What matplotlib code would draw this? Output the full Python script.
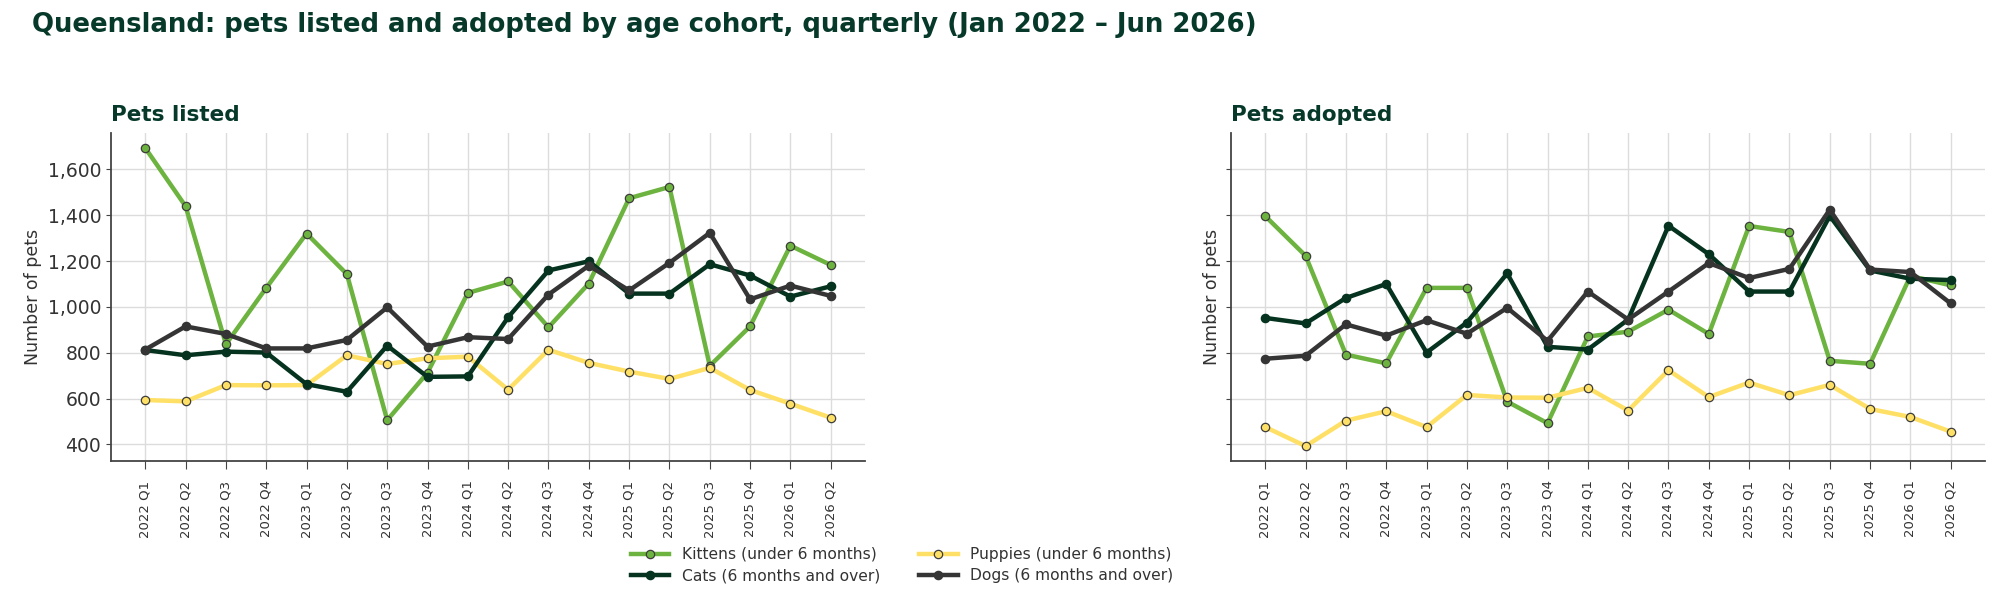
import matplotlib
matplotlib.use("Agg")
import matplotlib.pyplot as plt
from matplotlib.ticker import FuncFormatter

quarters = ["2022 Q1", "2022 Q2", "2022 Q3", "2022 Q4",
            "2023 Q1", "2023 Q2", "2023 Q3", "2023 Q4",
            "2024 Q1", "2024 Q2", "2024 Q3", "2024 Q4",
            "2025 Q1", "2025 Q2", "2025 Q3", "2025 Q4",
            "2026 Q1", "2026 Q2"]

# pets listed
kittens_listed = [1693, 1439, 837, 1083, 1320, 1143, 506, 713, 1061, 1111, 911, 1102,
                  1474, 1523, 743, 915, 1267, 1183]
puppies_listed = [594, 588, 659, 658, 659, 789, 751, 776, 783, 639, 813, 756,
                  718, 686, 734, 638, 578, 517]
cats_listed = [812, 789, 805, 801, 663, 630, 831, 695, 697, 955, 1159, 1199,
               1058, 1058, 1186, 1137, 1045, 1090]
dogs_listed = [814, 915, 882, 819, 819, 856, 998, 827, 868, 860, 1054, 1180,
               1072, 1192, 1323, 1033, 1093, 1048]

# pets adopted
kittens_adopted = [1396, 1223, 792, 754, 1083, 1083, 587, 493, 871, 892, 988, 882,
                   1353, 1327, 765, 752, 1135, 1094]
puppies_adopted = [476, 393, 504, 545, 476, 616, 605, 604, 647, 548, 724, 607,
                   670, 615, 660, 555, 520, 456]
cats_adopted = [952, 928, 1039, 1100, 801, 932, 1146, 826, 814, 945, 1354, 1230,
                1067, 1067, 1397, 1159, 1123, 1117]
dogs_adopted = [774, 787, 924, 875, 942, 883, 996, 852, 1067, 945, 1067, 1191,
                1126, 1166, 1424, 1163, 1152, 1015]

series_names = ["Kittens (under 6 months)", "Puppies (under 6 months)",
                "Cats (6 months and over)", "Dogs (6 months and over)"]
colors = ["#6db33f", "#ffe066", "#05331f", "#353535"]
edge_colors = ["#3d3d3d", "#3d3d3d", "#05331f", "#353535"]

dark_green = "#06392a"
text_grey = "#333333"


def draw_panel(ax, title, data):
    x = list(range(len(quarters)))
    # puppies underneath, dogs on top
    order = [1, 0, 2, 3]
    handles = {}
    for i in order:
        h, = ax.plot(x, data[i], color=colors[i], linewidth=3.2, marker="o",
                     markersize=6, markerfacecolor=colors[i],
                     markeredgecolor=edge_colors[i], markeredgewidth=0.9,
                     label=series_names[i], zorder=3 + i)
        handles[i] = h
    ax.set_xticks(x)
    ax.set_xticklabels(quarters, rotation=90, fontsize=9.5, color=text_grey)
    ax.tick_params(axis="x", length=6, pad=8)
    ax.set_title(title, loc="left", fontsize=15.5, fontweight="bold",
                 color=dark_green, pad=9)
    ax.set_ylabel("Number of pets", fontsize=12.5, color=text_grey)
    ax.grid(True, color="#dcdcdc", linewidth=1)
    ax.set_axisbelow(True)
    for s in ["top", "right"]:
        ax.spines[s].set_visible(False)
    for s in ["left", "bottom"]:
        ax.spines[s].set_color("#444444")
        ax.spines[s].set_linewidth(1.3)
    ax.tick_params(colors="#444444", labelcolor=text_grey)
    return handles


fig = plt.figure(figsize=(20, 6.05), dpi=100)
ax1 = fig.add_axes([0.0555, 0.238, 0.377, 0.542])
ax2 = fig.add_axes([0.6155, 0.238, 0.377, 0.542], sharey=ax1)

h = draw_panel(ax1, "Pets listed",
               [kittens_listed, puppies_listed, cats_listed, dogs_listed])
draw_panel(ax2, "Pets adopted",
           [kittens_adopted, puppies_adopted, cats_adopted, dogs_adopted])

ax1.set_yticks([400, 600, 800, 1000, 1200, 1400, 1600])
ax1.yaxis.set_major_formatter(FuncFormatter(lambda v, p: "{:,.0f}".format(v)))
ax1.tick_params(axis="y", labelsize=13.5)
ax2.tick_params(axis="y", labelleft=False)

fig.text(0.016, 0.958, "Queensland: pets listed and adopted by age cohort, quarterly (Jan 2022 \u2013 Jun 2026)",
         fontsize=18.7, fontweight="bold", color=dark_green, ha="left", va="center")

fig.legend([h[0], h[2], h[1], h[3]],
           [series_names[0], series_names[2], series_names[1], series_names[3]],
           loc="center", bbox_to_anchor=(0.451, 0.066), ncol=2, frameon=False,
           fontsize=11.2, labelcolor=text_grey, handlelength=2.5,
           columnspacing=2.5, labelspacing=0.4)

fig.savefig("out.png", dpi=100)
